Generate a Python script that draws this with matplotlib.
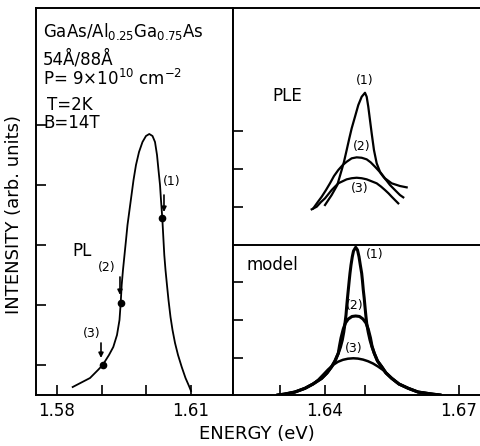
import matplotlib
matplotlib.use("Agg")
import matplotlib.pyplot as plt

plt.rcParams['font.family'] = 'DejaVu Sans'

# PL spectrum (left panel)
pl_e = [1.58351, 1.58739, 1.58918, 1.59023, 1.59164, 1.5926, 1.59343, 1.59399,
        1.59426, 1.59448, 1.59477, 1.59511, 1.59545, 1.59578, 1.59623, 1.59668,
        1.59713, 1.59768, 1.59836, 1.59914, 1.59992, 1.60066,
        1.60138, 1.60194, 1.60239, 1.60272, 1.60306, 1.60328, 1.60357, 1.6038,
        1.60402, 1.60429, 1.60462, 1.60496, 1.60541, 1.60586, 1.60642, 1.60709,
        1.60792, 1.60877, 1.60955, 1.61]
pl_i = [0.133, 0.283, 0.417, 0.5, 0.667, 0.8, 1.0, 1.25,
        1.533, 1.833, 2.083, 2.333, 2.583, 2.833, 3.083, 3.333,
        3.583, 3.833, 4.05, 4.217, 4.317, 4.35,
        4.317, 4.217, 4.0, 3.75, 3.5, 3.25, 2.95, 2.633,
        2.333, 2.083, 1.833, 1.583, 1.3, 1.083, 0.867, 0.667,
        0.467, 0.283, 0.15, 0.067]
# excitation energies marked on the PL line
exc_labels = ['(1)', '(2)', '(3)']
exc_e = [1.60357, 1.59426, 1.59023]
exc_i = [2.95, 1.533, 0.5]

# PLE spectra (upper right)
ple1_e = [1.64, 1.64149, 1.64275, 1.64373, 1.64425, 1.64485, 1.64544, 1.64597,
          1.64671, 1.64745, 1.64821, 1.64895, 1.64933, 1.64969, 1.65007, 1.65045,
          1.65096, 1.65157, 1.65231, 1.65343, 1.65493, 1.65678, 1.65828]
ple1_i = [1.053, 1.316, 1.579, 1.974, 2.192, 2.5, 2.808, 3.071,
          3.376, 3.684, 3.903, 4.008, 3.903, 3.639, 3.289, 2.939,
          2.5, 2.15, 1.929, 1.755, 1.624, 1.553, 1.518]
ple2_e = [1.63738, 1.63827, 1.63926, 1.64022, 1.64111, 1.64201, 1.64297, 1.64396,
          1.64485, 1.64597, 1.64709, 1.64821, 1.64933, 1.65023, 1.65119, 1.65215,
          1.65305, 1.65381, 1.65455, 1.65566, 1.65678, 1.65752]
ple2_i = [0.966, 1.113, 1.271, 1.447, 1.624, 1.816, 1.974, 2.105,
          2.192, 2.282, 2.308, 2.297, 2.255, 2.176, 2.061, 1.939,
          1.797, 1.692, 1.579, 1.447, 1.316, 1.255]
ple3_e = [1.63702, 1.63814, 1.6391, 1.64, 1.64149, 1.64297, 1.64485, 1.64597,
          1.64709, 1.64821, 1.64933, 1.65157, 1.65253, 1.65343, 1.65421, 1.65493,
          1.65566, 1.6564]
ple3_i = [0.939, 1.008, 1.132, 1.229, 1.447, 1.624, 1.729, 1.758,
          1.771, 1.758, 1.729, 1.624, 1.539, 1.447, 1.361, 1.271,
          1.184, 1.097]

# model spectra (lower right)
mod1_e = [1.62947, 1.63104, 1.63328, 1.63552, 1.63731, 1.63926, 1.64044, 1.64149,
          1.64223, 1.64297, 1.64346, 1.64387, 1.6442, 1.64447, 1.6447, 1.64485,
          1.64503, 1.64521, 1.64541, 1.64559, 1.64582, 1.64611, 1.64638, 1.64687,
          1.64727, 1.64761, 1.6479, 1.64821, 1.64839, 1.64857, 1.64877, 1.64895,
          1.64913, 1.64933, 1.64967, 1.65007, 1.65052, 1.65103, 1.65175, 1.65269,
          1.65365, 1.65493, 1.65656, 1.65864, 1.66081, 1.66388, 1.66574]
mod1_i = [0.0, 0.026, 0.079, 0.176, 0.289, 0.439, 0.579, 0.745,
          0.895, 1.097, 1.263, 1.447, 1.658, 1.887, 2.105, 2.324,
          2.553, 2.763, 3.0, 3.203, 3.421, 3.639, 3.789, 3.887,
          3.816, 3.639, 3.421, 3.203, 3.0, 2.763, 2.553, 2.324,
          2.105, 1.887, 1.658, 1.447, 1.263, 1.097, 0.895, 0.745,
          0.579, 0.439, 0.289, 0.176, 0.079, 0.026, 0.0]
mod2_e = [1.62947, 1.63104, 1.63328, 1.63552, 1.63731, 1.63926, 1.64044, 1.64149,
          1.64223, 1.64297, 1.64324, 1.64358, 1.64409, 1.64458, 1.64521, 1.64604,
          1.64687, 1.64772, 1.6485, 1.64917, 1.64967, 1.65018, 1.65052, 1.65103,
          1.65175, 1.65269, 1.65365, 1.65493, 1.65656, 1.65864, 1.66081, 1.66388,
          1.66574]
mod2_i = [0.0, 0.026, 0.079, 0.176, 0.289, 0.439, 0.579, 0.745,
          0.895, 1.097, 1.289, 1.5, 1.737, 1.895, 2.0, 2.066,
          2.079, 2.066, 2.0, 1.895, 1.737, 1.5, 1.289, 1.097,
          0.895, 0.745, 0.579, 0.439, 0.289, 0.176, 0.079, 0.026,
          0.0]
mod3_e = [1.62947, 1.63104, 1.63328, 1.63552, 1.63731, 1.63843, 1.63961, 1.64067,
          1.64179, 1.6429, 1.64402, 1.64514, 1.64633, 1.64738, 1.6485, 1.64962,
          1.65074, 1.65186, 1.65298, 1.65399, 1.65493, 1.65656, 1.65864, 1.66081,
          1.66388, 1.66574]
mod3_i = [0.0, 0.026, 0.079, 0.176, 0.289, 0.395, 0.539, 0.671,
          0.789, 0.874, 0.926, 0.955, 0.966, 0.958, 0.932, 0.889,
          0.829, 0.75, 0.658, 0.553, 0.439, 0.289, 0.176, 0.079,
          0.026, 0.0]

W, H = 480, 446
fig = plt.figure(figsize=(W / 100, H / 100), dpi=100)


def box(x0, y0, x1, y1):
    # pixel box (top-left origin) -> figure fraction
    return [x0 / W, 1 - y1 / H, (x1 - x0) / W, (y1 - y0) / H]


ax_pl = fig.add_axes(box(36, 8, 233, 395))
ax_ple = fig.add_axes(box(233, 8, 480, 245))
ax_mod = fig.add_axes(box(233, 245, 480, 395))

for ax in (ax_pl, ax_ple, ax_mod):
    for s in ax.spines.values():
        s.set_linewidth(1.4)
    ax.tick_params(direction='in', length=7, width=1.2, labelsize=12, pad=5)
    ax.set_yticklabels([])
for ax in (ax_ple, ax_mod):
    ax.spines['right'].set_visible(False)

# left panel
ax_pl.set_xlim(1.5753, 1.6194)
ax_pl.set_ylim(0, 6.45)
ax_pl.plot(pl_e, pl_i, color='black', lw=1.3)
ax_pl.plot(exc_e, exc_i, 'o', color='black', ms=4.5)
ax_pl.set_xticks([1.58, 1.59, 1.60, 1.61])
ax_pl.set_xticklabels(['1.58', '', '', '1.61'])
ax_pl.set_yticks([0.5, 1.5, 2.5, 3.5, 4.5])

arrow_e = [1.60395, 1.5941, 1.58985]
arrow_top = [3.333, 1.967, 0.867]
arrow_bot = [3.05, 1.667, 0.617]
lab_e = [1.60574, 1.59119, 1.58784]
lab_i = [3.55, 2.117, 1.033]
for k in range(3):
    ax_pl.annotate('', xy=(arrow_e[k], arrow_bot[k]), xytext=(arrow_e[k], arrow_top[k]),
                   arrowprops=dict(arrowstyle='-|>', color='black', lw=1.2,
                                   mutation_scale=7, shrinkA=0, shrinkB=0))
    ax_pl.text(lab_e[k], lab_i[k], exc_labels[k], fontsize=9, ha='center', va='center')
ax_pl.text(1.5856, 2.4, 'PL', fontsize=12, ha='center', va='center')

hdr = dict(transform=ax_pl.transAxes, fontsize=12, va='baseline', ha='left')
ax_pl.text(0.036, 0.925, r'GaAs/Al$_{0.25}$Ga$_{0.75}$As', **hdr)
ax_pl.text(0.036, 0.855, u'54\u00c5/88\u00c5', **hdr)
ax_pl.text(0.036, 0.800, r'P= 9$\times$10$^{10}$ cm$^{-2}$', **hdr)
ax_pl.text(0.056, 0.7364, 'T=2K', **hdr)
ax_pl.text(0.036, 0.690, 'B=14T', **hdr)

# PLE panel
ax_ple.set_xlim(1.6194, 1.6747)
ax_ple.set_ylim(0, 6.24)
ax_ple.plot(ple1_e, ple1_i, color='black', lw=1.6)
ax_ple.plot(ple2_e, ple2_i, color='black', lw=1.6)
ax_ple.plot(ple3_e, ple3_i, color='black', lw=1.6)
ax_ple.set_xticks([])
ax_ple.set_yticks([1, 2, 3])
ax_ple.spines['bottom'].set_visible(False)
ax_ple.text(1.63149, 3.92, 'PLE', fontsize=12, ha='center', va='center')
ax_ple.text(1.64895, 4.34, '(1)', fontsize=9, ha='center', va='center')
ax_ple.text(1.6482, 2.605, '(2)', fontsize=9, ha='center', va='center')
ax_ple.text(1.64767, 1.49, '(3)', fontsize=9, ha='center', va='center')

# model panel
ax_mod.set_xlim(1.6194, 1.6747)
ax_mod.set_ylim(0, 3.947)
ax_mod.plot(mod1_e, mod1_i, color='black', lw=2.2)
ax_mod.plot(mod2_e, mod2_i, color='black', lw=2.2)
ax_mod.plot(mod3_e, mod3_i, color='black', lw=1.8)
ax_mod.set_xticks([1.63, 1.64, 1.649, 1.67])
ax_mod.set_xticklabels(['', '1.64', '', '1.67'])
ax_mod.set_yticks([0.97, 1.97, 2.97])
ax_mod.text(1.62253, 3.42, 'model', fontsize=12, ha='left', va='center')
ax_mod.text(1.65119, 3.684, '(1)', fontsize=9, ha='center', va='center')
ax_mod.text(1.64671, 2.368, '(2)', fontsize=9, ha='center', va='center')
ax_mod.text(1.64633, 1.229, '(3)', fontsize=9, ha='center', va='center')

fig.text(14 / W, 1 - 215 / H, 'INTENSITY (arb. units)', rotation=90,
         fontsize=13, ha='center', va='center')
fig.text(257 / W, 1 - 434 / H, 'ENERGY (eV)', fontsize=13, ha='center', va='center')

fig.savefig('out.png', dpi=100)
